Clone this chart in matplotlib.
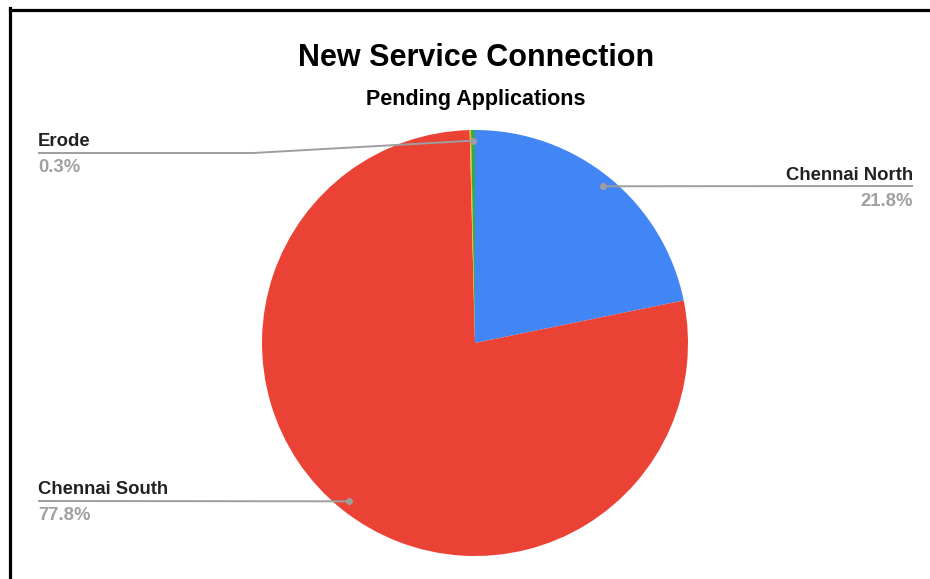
import numpy as np
import matplotlib.pyplot as plt
from matplotlib.lines import Line2D

# pending applications per region
regions = ["Chennai North", "Chennai South", "Other", "Erode"]
shares = [21.8, 77.8, 0.1, 0.3]
colors = ["#4285F4", "#EA4335", "#FBBC04", "#34A853"]

W, H = 930, 579
fig = plt.figure(figsize=(W / 100, H / 100), dpi=100)
ax = fig.add_axes([0, 0, 1, 1])

cx, cy, R = 475, H - 343, 213
wedges, _ = ax.pie(shares, colors=colors, startangle=90, counterclock=False,
                   center=(cx, cy), radius=R, frame=False)
ax.set_aspect("auto")
ax.set_xlim(0, W)
ax.set_ylim(0, H)
ax.axis("off")

# black frame along top and left
fig.add_artist(Line2D([9.5 / W, 9.5 / W], [0, 1 - 8 / H], color="black", lw=2.3,
                      transform=fig.transFigure, solid_capstyle="projecting"))
fig.add_artist(Line2D([9.5 / W, 1], [1 - 9.5 / H, 1 - 9.5 / H], color="black", lw=2.3,
                      transform=fig.transFigure, solid_capstyle="projecting"))

ax.text(cx + 1, H - 58, "New Service Connection", ha="center", va="center",
        fontsize=22, fontweight="bold", family="Liberation Sans", color="black")
ax.text(cx + 1, H - 100, "Pending Applications", ha="center", va="center",
        fontsize=15.5, fontweight="bold", family="Liberation Sans", color="#000000")

line_col = "#9e9e9e"
name_col = "#222222"
pct_col = "#a0a0a0"


def anchor(w):
    mid = np.deg2rad((w.theta1 + w.theta2) / 2)
    return cx + 0.95 * R * np.cos(mid), cy + 0.95 * R * np.sin(mid)


def callout(w, label, pct, y_line, x_text, ha, elbow_x=None):
    px, py = anchor(w)
    yl = H - y_line
    if elbow_x is None:
        xs, ys = [px, x_text], [py, yl]
    else:
        xs, ys = [px, elbow_x, x_text], [py, yl, yl]
    ax.plot(xs, ys, color=line_col, lw=1.4, solid_capstyle="butt")
    ax.plot(px, py, "o", color=line_col, ms=5, mec="none")
    ax.text(x_text, yl + 11, label, ha=ha, va="center", fontsize=13.3,
            fontweight="bold", family="Liberation Sans", color=name_col)
    ax.text(x_text, yl - 15, pct, ha=ha, va="center", fontsize=13.3,
            fontweight="bold", family="Liberation Sans", color=pct_col)


callout(wedges[0], regions[0], f"{shares[0]}%", 186, 913, "right")
callout(wedges[1], regions[1], f"{shares[1]}%", 501, 38, "left")
callout(wedges[3], regions[3], f"{shares[3]}%", 153, 38, "left", elbow_x=253)

fig.savefig("out.png", dpi=100)
